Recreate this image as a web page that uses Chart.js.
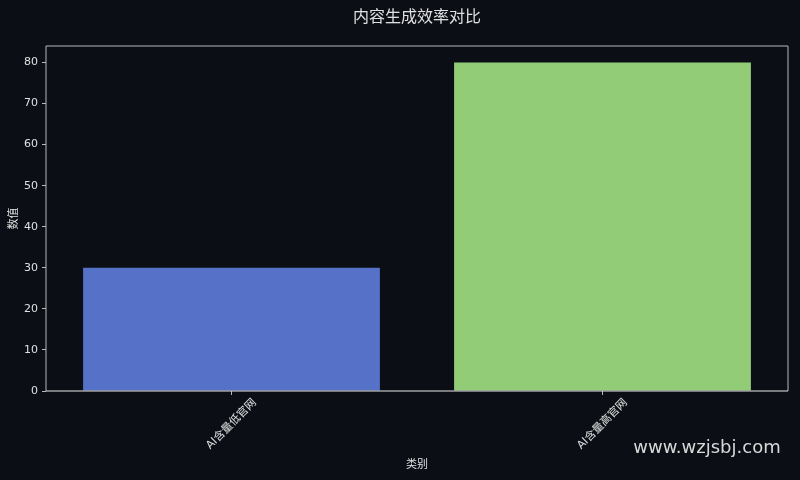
<!DOCTYPE html>
<html>
<head>
<meta charset="utf-8">
<script src="https://cdn.jsdelivr.net/npm/chart.js@4.4.0/dist/chart.umd.min.js"></script>
<style>
  html, body { margin: 0; padding: 0; background: #0b0e15; }
  #wrap { width: 800px; height: 480px; }
</style>
</head>
<body>
<div id="wrap"><canvas id="chart"></canvas></div>
<script>
const categories = ['AI含量低官网', 'AI含量高官网'];
const values = [30, 80];
const barColors = ['#5572c8', '#93cc76'];
const yTicks = [0, 10, 20, 30, 40, 50, 60, 70, 80];
const chartTitle = '内容生成效率对比';

const FONT = '"DejaVu Sans", "Noto Sans CJK SC", sans-serif';
const TEXT = '#e0e0e0';

// frame round the plot area, centred title, rotated x labels, watermark
const framePlugin = {
    id: 'frame',
    afterDatasetsDraw(chart) {
        const { ctx, chartArea: a } = chart;
        ctx.save();
        ctx.strokeStyle = '#b8b8b8';
        ctx.lineWidth = 1;
        ctx.beginPath();
        ctx.moveTo(a.left, a.bottom);
        ctx.lineTo(a.left, a.top);
        ctx.lineTo(a.right, a.top);
        ctx.lineTo(a.right, a.bottom);
        ctx.stroke();
        ctx.strokeStyle = '#e8e8e8';
        ctx.beginPath();
        ctx.moveTo(a.left, a.bottom);
        ctx.lineTo(a.right, a.bottom);
        ctx.stroke();
        ctx.restore();
    },
    afterDraw(chart) {
        const { ctx, chartArea: a } = chart;
        const xScale = chart.scales.x;
        ctx.save();

        ctx.font = '16px ' + FONT;
        ctx.fillStyle = TEXT;
        ctx.textAlign = 'center';
        ctx.textBaseline = 'middle';
        ctx.fillText(chartTitle, (a.left + a.right) / 2, 18);

        // x tick labels, rotated 45deg and centred under the tick
        ctx.font = '11px ' + FONT;
        categories.forEach((label, i) => {
            const x = xScale.getPixelForTick(i);
            const w = ctx.measureText(label).width;
            const half = (w * Math.SQRT1_2) / 2 + 4;
            ctx.save();
            ctx.translate(x, a.bottom + 6 + half);
            ctx.rotate(-Math.PI / 4);
            ctx.textAlign = 'center';
            ctx.textBaseline = 'middle';
            ctx.fillText(label, 0, 0);
            ctx.restore();
        });

        ctx.font = '18px ' + FONT;
        ctx.fillStyle = '#d8d8d8';
        ctx.textAlign = 'center';
        ctx.textBaseline = 'middle';
        ctx.fillText('www.wzjsbj.com', 707, 448);
        ctx.restore();
    }
};

new Chart(document.getElementById('chart'), {
    type: 'bar',
    data: {
        labels: categories,
        datasets: [{
            data: values,
            backgroundColor: barColors,
            barPercentage: 0.8,
            categoryPercentage: 1.0
        }]
    },
    options: {
        responsive: true,
        maintainAspectRatio: false,
        animation: false,
        layout: { padding: { left: 8, right: 12, top: 46, bottom: 0 } },
        plugins: {
            legend: { display: false },
            tooltip: { enabled: false },
            title: { display: false }
        },
        scales: {
            x: {
                offset: true,
                grid: { display: true, drawOnChartArea: false, drawTicks: true, tickLength: 4, color: '#b8b8b8', offset: false },
                border: { display: false },
                ticks: { display: false },
                title: {
                    display: true,
                    text: '类别',
                    color: TEXT,
                    font: { family: FONT, size: 11 },
                    padding: { top: 4, bottom: 8 }
                },
                afterFit(scale) { scale.height = 89; }
            },
            y: {
                min: 0,
                max: 84,
                afterBuildTicks(scale) { scale.ticks = yTicks.map(v => ({ value: v })); },
                grid: { display: true, drawOnChartArea: false, drawTicks: true, tickLength: 4, color: '#b8b8b8' },
                border: { display: false },
                ticks: {
                    color: TEXT,
                    font: { family: FONT, size: 11 },
                    padding: 4
                },
                title: {
                    display: true,
                    text: '数值',
                    color: TEXT,
                    font: { family: FONT, size: 11 },
                    padding: { top: 0, bottom: 2 }
                },
                afterFit(scale) { scale.width = 38; }
            }
        }
    },
    plugins: [framePlugin]
});
</script>
</body>
</html>
